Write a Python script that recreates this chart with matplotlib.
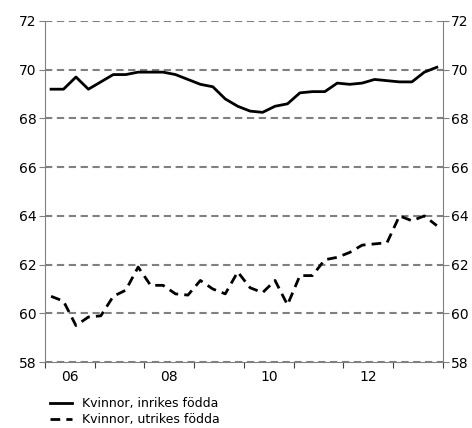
import matplotlib.pyplot as plt
import numpy as np

# quarterly data 2006Q1 - 2013Q4, sysselsättningsgrad (%)
quarters = np.arange(2006, 2014, 0.25) + 0.125
inrikes = [69.2, 69.2, 69.7, 69.2, 69.5, 69.8, 69.8, 69.9,
           69.9, 69.9, 69.8, 69.6, 69.4, 69.3, 68.8, 68.5,
           68.3, 68.25, 68.5, 68.6, 69.05, 69.1, 69.1, 69.45,
           69.4, 69.45, 69.6, 69.55, 69.5, 69.5, 69.9, 70.1]
utrikes = [60.7, 60.5, 59.5, 59.85, 59.9, 60.7, 60.95, 61.9,
           61.15, 61.15, 60.8, 60.75, 61.35, 61.0, 60.8, 61.7,
           61.05, 60.85, 61.35, 60.35, 61.55, 61.55, 62.2, 62.3,
           62.5, 62.8, 62.85, 62.9, 64.0, 63.8, 64.0, 63.6]
year_labels = ['06', '08', '10', '12']
label_pos = [2006.5, 2008.5, 2010.5, 2012.5]
labels = ['Kvinnor, inrikes födda', 'Kvinnor, utrikes födda']

plt.rcParams['font.family'] = 'DejaVu Sans'
plt.rcParams['font.size'] = 10

fig = plt.figure(figsize=(4.72, 4.28), dpi=100)
ax = fig.add_axes([0.095, 0.154, 0.8436, 0.797])

for y in range(58, 73, 2):
    ax.axhline(y, color='#808080', lw=1.5, ls=(0, (3.5, 2.2)), zorder=1)

l1, = ax.plot(quarters, inrikes, color='black', lw=2, zorder=3)
l2, = ax.plot(quarters, utrikes, color='black', lw=2, ls=(0, (3.5, 2.2)), zorder=3)

ax.set_xlim(2006, 2014)
ax.set_ylim(58, 72)
ax.set_yticks(range(58, 73, 2))
ax.set_xticks(range(2006, 2015))
ax.set_xticklabels([])
ax.set_xticks(label_pos, minor=True)
ax.set_xticklabels(year_labels, minor=True)
ax.tick_params(axis='x', which='minor', length=0, pad=6)
ax.tick_params(axis='x', which='major', length=4, color='#404040')
ax.tick_params(axis='y', length=4, color='#808080', right=True, labelright=True, pad=2)

for s in ['left', 'right', 'bottom']:
    ax.spines[s].set_color('#808080')
ax.spines['top'].set_visible(False)

fig.legend([l1, l2], labels, loc='upper left', bbox_to_anchor=(0.106, 0.072),
           frameon=False, handlelength=1.75, handletextpad=0.8, fontsize=9,
           labelspacing=0.25, borderaxespad=0, borderpad=0)

plt.savefig('out.png', dpi=100)
